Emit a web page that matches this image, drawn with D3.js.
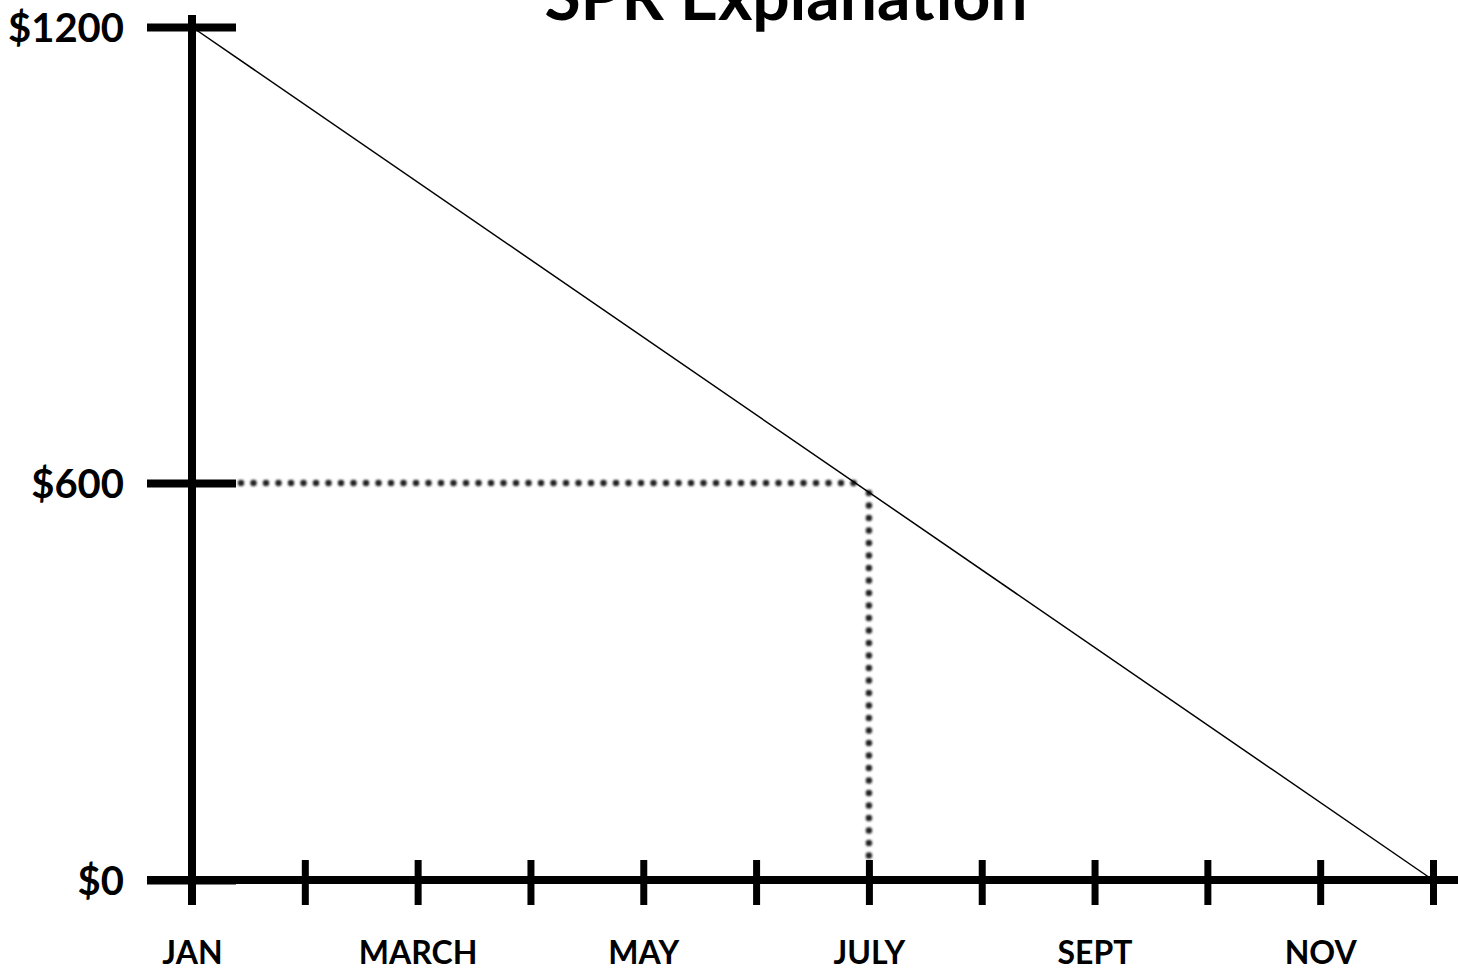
<!DOCTYPE html>
<html>
<head>
<meta charset="utf-8">
<script src="https://cdn.jsdelivr.net/npm/d3@7"></script>
<style>
  body { margin: 0; background: #fff; }
  text { font-family: Lato, "Open Sans", sans-serif; font-weight: 700; fill: #000; }
</style>
</head>
<body>
<div id="chart"></div>
<script>
var months = ["JAN", "FEB", "MARCH", "APRIL", "MAY", "JUNE", "JULY", "AUG", "SEPT", "OCT", "NOV", "DEC"];
var shownMonths = ["JAN", "MARCH", "MAY", "JULY", "SEPT", "NOV"];
var yTicks = [0, 600, 1200];
var lineData = [
  { month: "JAN", value: 1200 },
  { month: "DEC", value: 0 }
];
var marker = { month: "JULY", value: 600 };

var width = 1458, height = 970;

var svg = d3.select("#chart")
  .append("svg")
  .attr("width", width)
  .attr("height", height);

// soft blur for the dotted guides (user space so thin lines still get a region)
svg.append("defs").append("filter")
  .attr("id", "soft")
  .attr("filterUnits", "userSpaceOnUse")
  .attr("x", 0).attr("y", 0)
  .attr("width", width).attr("height", height)
  .append("feGaussianBlur").attr("stdDeviation", 0.8);

var x = d3.scalePoint()
  .domain(months)
  .range([192, 1433]);

// the hand drawn axis is not quite even, so use a piecewise scale
var y = d3.scaleLinear()
  .domain([0, 600, 1200])
  .range([880, 483, 27]);

// title (cut at the top like the original)
svg.append("text")
  .attr("x", 786)
  .attr("y", 20)
  .attr("text-anchor", "middle")
  .style("font-size", "66px")
  .text("SPR Explanation");

// dotted guide lines
var guides = svg.append("g")
  .attr("stroke", "#222")
  .attr("stroke-width", 6.5)
  .attr("stroke-linecap", "round")
  .attr("stroke-dasharray", "0,12.5")
  .attr("filter", "url(#soft)");

guides.append("line")
  .attr("x1", 241).attr("x2", x(marker.month) - 4)
  .attr("y1", y(marker.value)).attr("y2", y(marker.value));

guides.append("line")
  .attr("x1", x(marker.month)).attr("x2", x(marker.month))
  .attr("y1", y(marker.value) + 10).attr("y2", 856);

// y axis: ticks cross the axis line
var yAxis = svg.append("g")
  .attr("transform", "translate(236,0)")
  .call(d3.axisLeft(y)
    .tickValues(yTicks)
    .tickSize(89)
    .tickPadding(23)
    .tickFormat(function(d) { return "$" + d; }));
yAxis.select(".domain").remove();
yAxis.selectAll(".tick line").attr("stroke", "#000").attr("stroke-width", 8);
yAxis.selectAll(".tick text")
  .attr("dy", "0.36em")
  .style("font-size", "40px")
  .style("font-family", "Lato, sans-serif");

// x axis ticks
var xAxis = svg.append("g")
  .attr("transform", "translate(0,860)")
  .call(d3.axisBottom(x)
    .tickSize(45)
    .tickPadding(36)
    .tickFormat(function(d) { return shownMonths.indexOf(d) >= 0 ? d : ""; }));
xAxis.select(".domain").remove();
xAxis.selectAll(".tick line").attr("stroke", "#000").attr("stroke-width", 7);
xAxis.selectAll(".tick text")
  .attr("dy", "0.71em")
  .style("font-size", "32px")
  .style("font-family", "Lato, sans-serif");

// axis lines
svg.append("line")
  .attr("x1", 147).attr("x2", width)
  .attr("y1", y(0)).attr("y2", y(0))
  .attr("stroke", "#000").attr("stroke-width", 8);

svg.append("line")
  .attr("x1", x("JAN")).attr("x2", x("JAN"))
  .attr("y1", 15).attr("y2", 905)
  .attr("stroke", "#000").attr("stroke-width", 8);

// the decline line
var line = d3.line()
  .x(function(d) { return x(d.month); })
  .y(function(d) { return y(d.value); });

svg.append("path")
  .datum(lineData)
  .attr("d", line)
  .attr("fill", "none")
  .attr("stroke", "#000")
  .attr("stroke-width", 1.5);
</script>
</body>
</html>
